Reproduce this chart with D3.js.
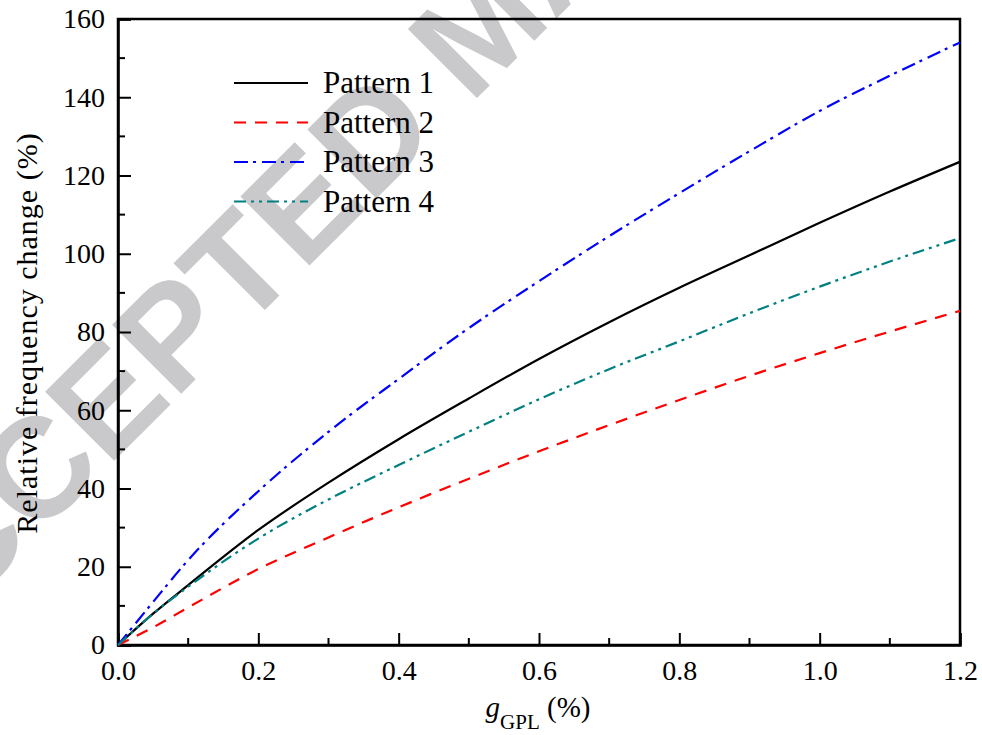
<!DOCTYPE html>
<html>
<head>
<meta charset="utf-8">
<script src="https://cdn.jsdelivr.net/npm/d3@7/dist/d3.min.js"></script>
<style>
  html, body { margin: 0; padding: 0; background: #fff; }
  svg { display: block; font-family: "Liberation Serif", "Times New Roman", Times, serif; }
</style>
</head>
<body>
<svg id="chart" width="982" height="735"></svg>
<script>
// GPL weight fraction (%)
const gpl = [0, 0.05, 0.1, 0.2, 0.3, 0.4, 0.5, 0.6, 0.7, 0.8, 0.9, 1.0, 1.1, 1.2];
// Relative frequency change (%) for each distribution pattern
const pattern1 = [0, 8, 15.3, 29.4, 41.5, 52.6, 63, 73.1, 82.5, 91.3, 99.6, 107.9, 115.9, 123.5];
const pattern2 = [0, 4.5, 9.6, 19.4, 27.5, 35.2, 42.5, 49.5, 56.2, 62.6, 68.8, 74.6, 80.1, 85.4];
const pattern3 = [0, 11, 21.7, 39.3, 54.5, 68, 81, 93, 104.5, 115.5, 126.2, 136.5, 145.5, 154];
const pattern4 = [0, 8, 14.9, 27.2, 37.2, 46, 54.5, 62.8, 70.5, 77.6, 84.8, 91.6, 98, 104];
const seriesNames = ["Pattern 1", "Pattern 2", "Pattern 3", "Pattern 4"];
const xTicks = [0, 0.2, 0.4, 0.6, 0.8, 1.0, 1.2];
const yTicks = [0, 20, 40, 60, 80, 100, 120, 140, 160];

const series = [
  { name: seriesNames[0], values: pattern1, color: "#000000", dash: null },
  { name: seriesNames[1], values: pattern2, color: "#ff0000", dash: "12,9" },
  { name: seriesNames[2], values: pattern3, color: "#0000ff", dash: "14,5,3,6" },
  { name: seriesNames[3], values: pattern4, color: "#008080", dash: "12,5,3,5,3,5" }
];

const svg = d3.select("#chart");
const margin = { left: 118, right: 22, top: 19, bottom: 90 };
const W = 982, H = 735;
const x = d3.scaleLinear().domain([0, 1.2]).range([margin.left, W - margin.right]);
const y = d3.scaleLinear().domain([0, 160]).range([H - margin.bottom, margin.top]);

const serif = "'Liberation Serif', 'Times New Roman', Times, serif";

// Diagonal manuscript stamp, behind the plot
svg.append("text")
  .attr("transform", "translate(-110,685) rotate(-45)")
  .attr("x", 0).attr("y", 0)
  .style("font-family", "'Liberation Sans', Arial, sans-serif")
  .style("font-weight", "bold")
  .style("font-size", "142px")
  .attr("fill", "#c9c9cb")
  .text("ACCEPTED MANUSCRIPT");

// Frame
const plotW = x(1.2) - x(0), plotH = y(0) - y(160);
svg.append("rect")
  .attr("x", x(0)).attr("y", y(160))
  .attr("width", plotW).attr("height", plotH)
  .attr("fill", "none").attr("stroke", "#000").attr("stroke-width", 2.5);

// Minor ticks
const gx = svg.append("g");
gx.selectAll("line.xminor")
  .data(d3.range(0.1, 1.2, 0.2))
  .join("line")
  .attr("x1", d => x(d)).attr("x2", d => x(d))
  .attr("y1", y(0)).attr("y2", y(0) - 7)
  .attr("stroke", "#000").attr("stroke-width", 2);
gx.selectAll("line.yminor")
  .data(d3.range(10, 160, 20))
  .join("line")
  .attr("x1", x(0)).attr("x2", x(0) + 7)
  .attr("y1", d => y(d)).attr("y2", d => y(d))
  .attr("stroke", "#000").attr("stroke-width", 2);

// Axes with inward major ticks
const xAxis = d3.axisBottom(x).tickValues(xTicks).tickFormat(d3.format(".1f"))
  .tickSize(-12).tickPadding(15);
const yAxis = d3.axisLeft(y).tickValues(yTicks).tickFormat(d3.format("d"))
  .tickSize(-13).tickPadding(13);

const xg = svg.append("g").attr("transform", `translate(0,${y(0)})`).call(xAxis);
const yg = svg.append("g").attr("transform", `translate(${x(0)},0)`).call(yAxis);
[xg, yg].forEach(g => {
  g.attr("font-family", null);
  g.select(".domain").attr("stroke", "#000").attr("stroke-width", 2.5);
  g.selectAll(".tick line").attr("stroke", "#000").attr("stroke-width", 2);
  g.selectAll(".tick text")
    .attr("fill", "#000")
    .style("font-family", serif)
    .style("font-size", "28px");
});

// Curves
const line = d3.line()
  .x((d, i) => x(gpl[i]))
  .y(d => y(d))
  .curve(d3.curveMonotoneX);

svg.append("g").selectAll("path")
  .data(series)
  .join("path")
  .attr("d", d => line(d.values))
  .attr("fill", "none")
  .attr("stroke", d => d.color)
  .attr("stroke-width", 2.2)
  .attr("stroke-dasharray", d => d.dash);

// Legend
const lg = svg.append("g").attr("transform", "translate(234,83)");
const rows = lg.selectAll("g").data(series).join("g")
  .attr("transform", (d, i) => `translate(0,${i * 39.5})`);
rows.append("line")
  .attr("x1", 0).attr("x2", 74).attr("y1", 0).attr("y2", 0)
  .attr("stroke", d => d.color).attr("stroke-width", 2.2)
  .attr("stroke-dasharray", d => d.dash);
rows.append("text")
  .attr("x", 89).attr("y", 10)
  .style("font-family", serif).style("font-size", "31px")
  .attr("fill", "#000")
  .text(d => d.name);

// Axis titles
svg.append("text")
  .attr("transform", "translate(37,333) rotate(-90)")
  .attr("text-anchor", "middle")
  .style("font-family", serif).style("font-size", "30px")
  .style("letter-spacing", "1px")
  .attr("fill", "#000")
  .text("Relative frequency change (%)");

const xt = svg.append("text")
  .attr("x", 538).attr("y", 717)
  .attr("text-anchor", "middle")
  .style("font-family", serif).style("font-size", "29px")
  .attr("fill", "#000");
xt.append("tspan").style("font-style", "italic").text("g");
xt.append("tspan").attr("dy", 12).style("font-size", "21px").text("GPL");
xt.append("tspan").attr("dy", -12).text(" (%)");
</script>
</body>
</html>
